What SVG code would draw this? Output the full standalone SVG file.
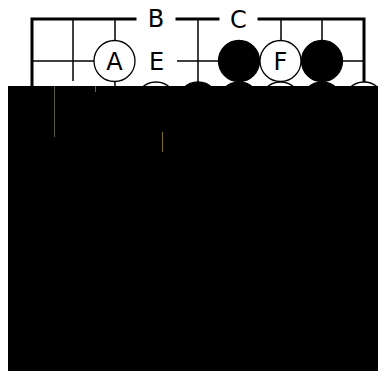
<svg xmlns="http://www.w3.org/2000/svg" width="378" height="371" viewBox="0 0 378 371">
<style>
.border{stroke:#000;stroke-width:3;fill:none;stroke-linecap:square}
.grid{stroke:#000;stroke-width:1.5;fill:none}
.w{fill:#fff;stroke:#000;stroke-width:1.3}
.b{fill:#000;stroke:#000;stroke-width:1.3}
.lbl{font-family:"DejaVu Sans","Verdana",sans-serif;font-size:24px;fill:#000;text-anchor:middle}
</style>
<rect width="378" height="371" fill="#fff"/>
<g id="connectors">
<path class="border" d="M32,86 V19 H135 M177,19 H218 M259,19 H364 V82"/>
<path class="grid" d="M32,61 H94 M177,61 H218 M343,61 H364 M73,19 V81 M115,19 V40 M115,82 V86 M198,19 V82 M281,19 V40 M322,19 V40"/>
</g>
<g id="stone-A"><circle class="w" cx="114.5" cy="61" r="20.5"/><text class="lbl" x="114.5" y="69.5">A</text></g>
<g id="label-B"><text class="lbl" x="156" y="27">B</text></g>
<g id="label-C"><text class="lbl" x="238.5" y="28">C</text></g>
<g id="label-E"><text class="lbl" x="156.5" y="70">E</text></g>
<g id="stone-b1"><circle class="b" cx="239" cy="61" r="20.5"/></g>
<g id="stone-F"><circle class="w" cx="280.5" cy="61" r="20.5"/><text class="lbl" x="280.5" y="69.5">F</text></g>
<g id="stone-b2"><circle class="b" cx="322" cy="61" r="20.5"/></g>
<g id="stone-w3a"><circle class="w" cx="156" cy="102.5" r="20.5"/></g>
<g id="stone-b3a"><circle class="b" cx="198" cy="102.5" r="20.5"/></g>
<g id="stone-b3b"><circle class="b" cx="239" cy="102.5" r="20.5"/></g>
<g id="stone-w3b"><circle class="w" cx="280.5" cy="102.5" r="20.5"/></g>
<g id="stone-b3c"><circle class="b" cx="322" cy="102.5" r="20.5"/></g>
<g id="stone-w3c"><circle class="w" cx="364" cy="102.5" r="20.5"/></g>
<rect x="8" y="86" width="370" height="285" fill="#000"/>
<g id="artifacts" stroke-width="1">
<line x1="54.5" y1="86" x2="54.5" y2="137" stroke="#5a5a38"/>
<line x1="95.5" y1="86" x2="95.5" y2="92" stroke="#208080"/>
<line x1="162.5" y1="132" x2="162.5" y2="152" stroke="#807020"/>
</g>
</svg>
